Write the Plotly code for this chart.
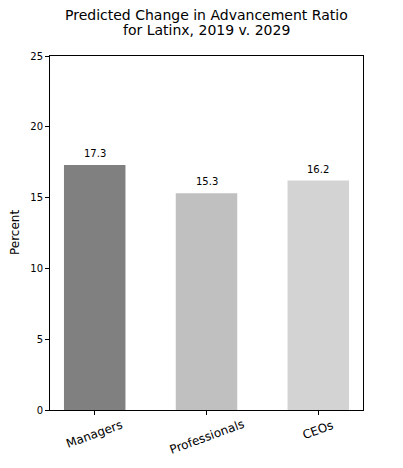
import plotly.graph_objects as go

categories = ["Managers", "Professionals", "CEOs"]
values = [17.3, 15.3, 16.2]
bar_colors = ["#808080", "#c0c0c0", "#d3d3d3"]
y_ticks = [0, 5, 10, 15, 20, 25]
title_lines = ["Predicted Change in Advancement Ratio", "for Latinx, 2019 v. 2029"]

font_family = "DejaVu Sans, sans-serif"
xs = list(range(len(categories)))

fig = go.Figure(
    go.Bar(
        x=xs,
        y=values,
        marker=dict(color=bar_colors, line=dict(width=0)),
        width=0.55,
    )
)

# value labels above the bars
for x, v in zip(xs, values):
    fig.add_annotation(
        x=x, y=v, text=f"{v:.1f}", showarrow=False,
        yanchor="bottom", yshift=4,
        font=dict(size=10, color="black", family=font_family),
    )

# rotated category labels, centred under each tick
for x, name in zip(xs, categories):
    fig.add_annotation(
        x=x, xref="x", y=0, yref="paper", text=name, showarrow=False,
        textangle=-20, yanchor="top", yshift=-5,
        font=dict(size=12, color="black", family=font_family),
    )

# two-line title, tighter spacing than plotly's default
for line, shift in zip(title_lines, [41, 26]):
    fig.add_annotation(
        x=0.5, xref="paper", y=1, yref="paper", text=line,
        showarrow=False, yanchor="middle", yshift=shift,
        font=dict(size=14, color="black", family=font_family),
    )

fig.add_annotation(
    x=0, xref="paper", y=0.5, yref="paper", text="Percent",
    showarrow=False, textangle=-90, xanchor="center", xshift=-35,
    font=dict(size=12, color="black", family=font_family),
)

fig.update_layout(
    width=395,
    height=460,
    plot_bgcolor="white",
    paper_bgcolor="white",
    font=dict(family=font_family, color="black"),
    margin=dict(l=42, r=40, t=48, b=58),
    showlegend=False,
    xaxis=dict(
        range=[-0.4, 2.4],
        tickvals=xs,
        ticktext=["", "", ""],
        ticks="outside",
        ticklen=4,
        tickcolor="black",
        showline=True,
        linecolor="black",
        linewidth=1,
        mirror=True,
        showgrid=False,
        zeroline=False,
        automargin=False,
    ),
    yaxis=dict(
        range=[0, 25],
        tickvals=y_ticks,
        tickfont=dict(size=10),
        ticks="outside",
        ticklen=4,
        tickcolor="black",
        showline=True,
        linecolor="black",
        linewidth=1,
        mirror=True,
        showgrid=False,
        zeroline=False,
        automargin=False,
    ),
)

fig.write_html("out.html")
